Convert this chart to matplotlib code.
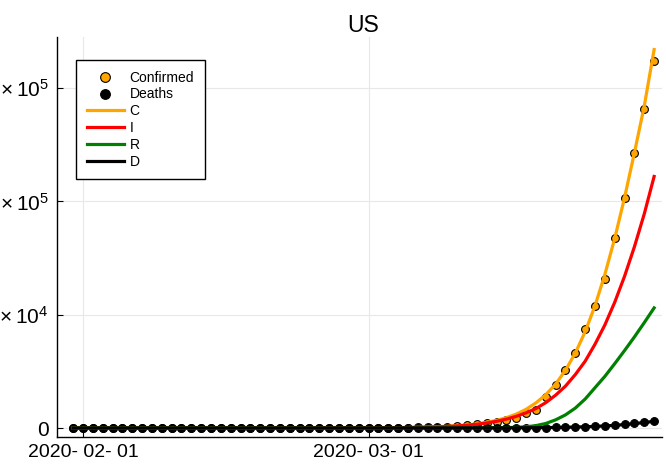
import matplotlib
matplotlib.use("Agg")
import matplotlib.pyplot as plt
import pandas as pd

plt.rcParams['font.family'] = ['Liberation Sans', 'DejaVu Sans']
plt.rcParams['mathtext.fontset'] = 'custom'
plt.rcParams['mathtext.rm'] = 'Liberation Sans'
plt.rcParams['mathtext.it'] = 'Liberation Sans:italic'

dates = pd.date_range('2020-01-31', '2020-03-30', freq='D')

confirmed = [7,
             8, 8, 11, 11, 11, 12, 12, 12, 12, 12, 13, 13, 14, 14, 14, 14, 14, 14, 14, 14,
             35, 35, 35, 53, 53, 59, 60, 62, 70,
             76, 101, 122, 153, 221, 278, 417, 537, 605, 959, 1281, 1663, 2179, 2726, 3499,
             4632, 6421, 7786, 13677, 19100, 25489, 33276, 43847, 53740, 65778, 83836,
             101657, 121478, 140886, 161807]

deaths = [0] * 29 + [1,
          1, 6, 7, 11, 12, 14, 17, 21, 22, 28, 36, 40, 47, 54, 63, 85, 108, 118, 200, 244,
          307, 427, 552, 706, 942, 1209, 1581, 2026, 2467, 2978]

model_C = [3, 3, 3, 3, 4, 4, 4, 4, 4, 4, 4, 5, 5, 5, 5, 5, 5, 5, 6, 6,
           6, 7, 8, 10, 13, 17, 22, 29, 38, 50,
           67, 90, 122, 165, 222, 300, 405, 550, 740, 1000, 1360, 1840, 2490, 3370, 4550,
           6140, 8250, 11100, 14700, 19400, 25500, 33100, 42500, 54000, 67800, 83700,
           101700, 121500, 142100, 167000]

model_I = [3, 3, 3, 3, 4, 4, 4, 4, 4, 4, 4, 5, 5, 5, 5, 5, 5, 5, 6, 6,
           6, 7, 8, 9, 12, 16, 21, 27, 35, 46,
           62, 84, 113, 153, 205, 277, 373, 505, 678, 910, 1240, 1660, 2220, 2960, 3920,
           5150, 6700, 8600, 11200, 14500, 18500, 23600, 29500, 37000, 45500, 55500,
           67000, 80000, 94500, 111000]

model_R = [0] * 20 + [0, 0, 0, 0, 1, 1, 1, 1, 1, 2,
           2, 3, 4, 5, 6, 8, 10, 13, 17, 22, 32, 48, 75, 115, 180,
           280, 520, 1050, 2000, 3600, 5800, 8800, 12800, 17800, 22800, 28400,
           34200, 40200, 46500, 53000]

model_D = [0] * 20 + [0, 0, 0, 1, 1, 1, 1, 2, 2, 2,
           3, 4, 5, 7, 9, 11, 14, 17, 21, 26, 32, 38, 45, 52, 60,
           80, 105, 140, 185, 245, 320, 420, 545, 710, 920, 1180,
           1520, 1950, 2420, 2950]

yticks = [0, 50000, 100000, 150000]
ytick_labels = ['0', r'$5.0\times10^{4}$', r'$1.0\times10^{5}$', r'$1.5\times10^{5}$']
xticks = [pd.Timestamp('2020-02-01'), pd.Timestamp('2020-03-01')]
xtick_labels = ['2020- 02- 01', '2020- 03- 01']

fig = plt.figure(figsize=(6.66, 4.65), dpi=100)
ax = fig.add_axes([57 / 666, 1 - 437 / 465, 605 / 666, 400 / 465])

ax.plot(dates, confirmed, linestyle='none', marker='o', markersize=5.6,
        markerfacecolor='#FFA500', markeredgecolor='black', markeredgewidth=0.8,
        label='Confirmed', zorder=3)
ax.plot(dates, deaths, linestyle='none', marker='o', markersize=5.6,
        markerfacecolor='black', markeredgecolor='black', markeredgewidth=0.8,
        label='Deaths', zorder=3)
ax.plot(dates, model_C, color='#FFA500', linewidth=2.3, label='C', zorder=4)
ax.plot(dates, model_I, color='#FF0000', linewidth=2.3, label='I', zorder=4)
ax.plot(dates, model_R, color='#008000', linewidth=2.3, label='R', zorder=4)
ax.plot(dates, model_D, color='black', linewidth=2.3, label='D', zorder=4)

ax.set_xlim(pd.Timestamp('2020-02-01') - pd.Timedelta(days=2.64),
            pd.Timestamp('2020-02-01') + pd.Timedelta(days=58.8))
ax.set_ylim(-3970, 172550)
ax.set_yticks(yticks, ytick_labels)
ax.set_xticks(xticks, xtick_labels)

ax.grid(True, color='#e8e8e8', linewidth=0.8)
ax.set_axisbelow(True)
for s in ['top', 'right']:
    ax.spines[s].set_visible(False)
for s in ['left', 'bottom']:
    ax.spines[s].set_linewidth(1.0)
ax.tick_params(axis='both', direction='in', length=4, width=0.8)
ax.tick_params(axis='y', pad=6, labelsize=15)
ax.tick_params(axis='x', pad=5, labelsize=14)

ax.set_title('US', fontsize=16.5, pad=-0.5, x=0.506)

leg = ax.legend(loc='upper left', bbox_to_anchor=(76 / 666, 1 - 60 / 465),
                bbox_transform=fig.transFigure, borderaxespad=0, fontsize=10,
                fancybox=False, framealpha=1, edgecolor='black',
                handlelength=2.7, handletextpad=0.4, labelspacing=0.2,
                borderpad=0.77, markerscale=1.25)
leg.get_frame().set_linewidth(1.0)

fig.savefig('out.png', dpi=100)
